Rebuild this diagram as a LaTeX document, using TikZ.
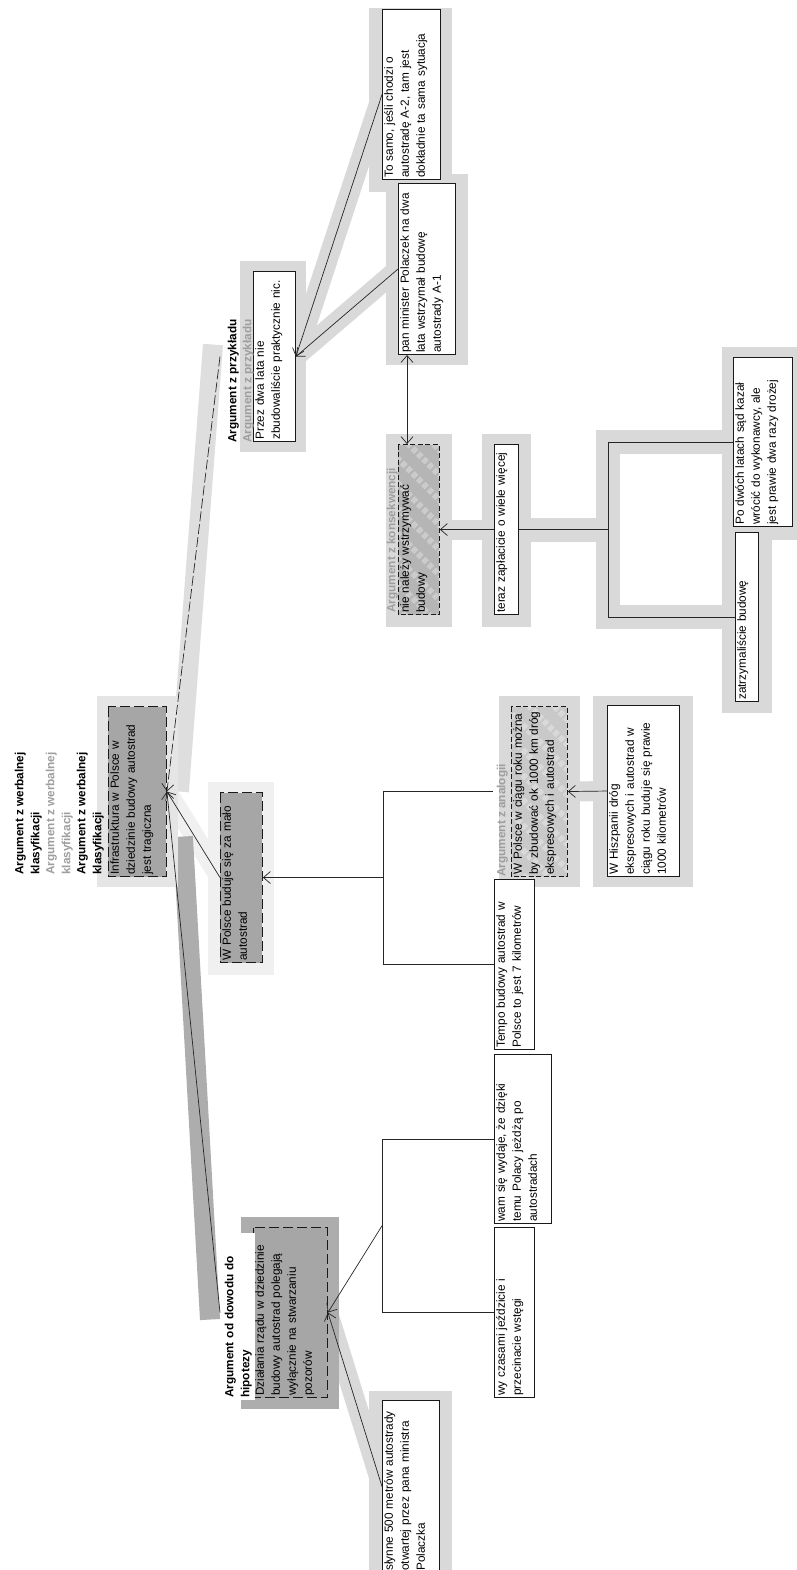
\documentclass[tikz,border=0pt]{standalone}
\usepackage{fontspec}
\setmainfont{Liberation Sans}
\usetikzlibrary{arrows.meta,calc}
\pgfdeclarelayer{bg}
\pgfsetlayers{bg,main}

\definecolor{haloStd}{gray}{0.85}
\definecolor{haloRoot}{gray}{0.90}
\definecolor{haloPale}{gray}{0.94}
\definecolor{haloDark}{gray}{0.68}
\definecolor{bandRoot}{gray}{0.87}
\definecolor{fillDark}{gray}{0.65}
\definecolor{fillMid}{gray}{0.71}
\definecolor{fillLight}{gray}{0.79}
\definecolor{ttlGray}{gray}{0.62}

\newcommand{\diafont}{\fontsize{11.8pt}{16pt}\selectfont}

\begin{document}
% The map is laid out in reading orientation and turned a quarter turn.
\begin{tikzpicture}[x=1pt, y=1pt, rotate=90, transform shape,
  font=\diafont,
  box/.style={anchor=north west, inner sep=0pt, line width=0.9pt, draw=black!90},
  plainbox/.style={box, fill=white},
  darkbox/.style={box, fill=fillDark, dash pattern=on 10pt off 4pt},
  stripebox/.style={box, fill=#1, dash pattern=on 5pt off 2.5pt,
    path picture={\foreach \t in {-220,-195,...,220}
      {\draw[white, opacity=0.3, line width=6pt]
        ($(path picture bounding box.center)+(\t,-45)$) -- ++(90,90);}}},
  txt/.style={anchor=north west, align=left, inner xsep=2pt, inner ysep=2pt},
  ttl/.style={anchor=north west, align=left, inner sep=0pt, font=\diafont\bfseries},
  conn/.style={draw=black!85, line width=0.7pt},
  toarrow/.style={-{Straight Barb[length=7pt,width=12pt]}},
  botharrows/.style={{Straight Barb[length=7pt,width=12pt]}-{Straight Barb[length=7pt,width=12pt]}},
  band/.style={line width=20pt, draw=#1}]

\useasboundingbox (0,0) rectangle (1570,-796);

% ---------- boxes ----------
\node[darkbox, minimum width=170pt, minimum height=58pt] (a) at (693,-108) {};
\node[plainbox, minimum width=170pt, minimum height=42pt] (b) at (1128,-253) {};
\node[plainbox, minimum width=170pt, minimum height=58pt] (c) at (1390,-382) {};
\node[plainbox, minimum width=171pt, minimum height=57pt] (d) at (1215,-398) {};
\node[stripebox=fillMid, minimum width=170pt, minimum height=41pt] (e) at (955,-398) {};
\node[plainbox, minimum width=170pt, minimum height=24pt] (f) at (955,-494) {};
\node[plainbox, minimum width=169pt, minimum height=59pt] (g1) at (1043,-733) {};
\node[plainbox, minimum width=169pt, minimum height=23pt] (g2) at (868,-735) {};
\node[darkbox, minimum width=170pt, minimum height=42pt] (h) at (607,-220) {};
\node[stripebox=fillLight, minimum width=170pt, minimum height=56pt] (i) at (693,-511) {};
\node[plainbox, minimum width=171pt, minimum height=72pt] (s) at (693,-607) {};
\node[plainbox, minimum width=170pt, minimum height=40pt] (j) at (520,-494) {};
\node[plainbox, minimum width=169pt, minimum height=57pt] (k) at (346,-494) {};
\node[plainbox, minimum width=170pt, minimum height=40pt] (l) at (172,-494) {};
\node[darkbox, minimum width=170pt, minimum height=74pt] (m) at (172,-253) {};
\node[plainbox, minimum width=172pt, minimum height=57pt] (n) at (-3,-382) {};

% ---------- box texts ----------
\node[txt, text width=166pt] (a-t) at (a.north west) {Infrastruktura w Polsce w\\dziedzinie budowy autostrad\\jest tragiczna};
\node[txt, text width=166pt] (b-t) at (b.north west) {Przez dwa lata nie\\zbudowaliście praktycznie nic.};
\node[txt, text width=166pt] (c-t) at (c.north west) {To samo, jeśli chodzi o\\autostradę A-2, tam jest\\dokładnie ta sama sytuacja};
\node[txt, text width=167pt] (d-t) at (d.north west) {pan minister Polaczek na dwa\\lata wstrzymał budowę\\autostrady A-1};
\node[txt, text width=166pt] (e-t) at (e.north west) {nie należy wstrzymywać\\budowy};
\node[txt, text width=166pt] (f-t) at (f.north west) {teraz zapłacicie o wiele więcej};
\node[txt, text width=165pt] (g1-t) at (g1.north west) {Po dwóch latach sąd kazał\\wrócić do wykonawcy, ale\\jest prawie dwa razy drożej};
\node[txt, text width=165pt] (g2-t) at (g2.north west) {zatrzymaliście budowę};
\node[txt, text width=166pt] (h-t) at (h.north west) {W Polsce buduje się za mało\\autostrad};
\node[txt, text width=166pt] (i-t) at (i.north west) {W Polsce w ciągu roku można\\by zbudować ok 1000 km dróg\\ekspresowych i autostrad};
\node[txt, text width=167pt] (s-t) at (s.north west) {W Hiszpanii dróg\\ekspresowych i autostrad w\\ciągu roku buduje się prawie\\1000 kilometrów};
\node[txt, text width=166pt] (j-t) at (j.north west) {Tempo budowy autostrad w\\Polsce to jest 7 kilometrów};
\node[txt, text width=165pt] (k-t) at (k.north west) {wam się wydaje, że dzięki\\temu Polacy jeżdżą po\\autostradach};
\node[txt, text width=166pt] (l-t) at (l.north west) {wy czasami jeździcie i\\przecinacie wstęgi};
\node[txt, text width=166pt] (m-t) at (m.north west) {Działania rządu w dziedzinie\\budowy autostrad polegają\\wyłącznie na stwarzaniu\\pozorów};
\node[txt, text width=168pt] (n-t) at (n.north west) {słynne 500 metrów autostrady\\otwartej przez pana ministra\\Polaczka};

% ---------- argument titles ----------
\node[ttl] (a-t1) at ($(a.north west)+(2,93.3)$) {Argument z werbalnej\\klasyfikacji};
\node[ttl, text=ttlGray] (a-t2) at ($(a.north west)+(2,62.3)$) {Argument z werbalnej\\klasyfikacji};
\node[ttl] (a-t3) at ($(a.north west)+(2,31.3)$) {Argument z werbalnej\\klasyfikacji};
\node[ttl] (b-t1) at ($(b.north west)+(-1,25.3)$) {Argument z przykładu};
\node[ttl, text=ttlGray] (b-t2) at ($(b.north west)+(-1,10.3)$) {Argument z przykładu};
\node[ttl, text=ttlGray] (e-t1) at ($(e.north west)+(2,11.3)$) {Argument z konsekwencji};
\node[ttl, text=ttlGray] (i-t1) at ($(i.north west)+(0,14.3)$) {Argument z analogii};
\node[ttl, fill=white, inner xsep=2pt, inner ysep=3pt, text width=163pt] (m-t1)
  at ($(m.north west)+(-2,31.3)$) {Argument od dowodu do\\hipotezy};

% ---------- junction points ----------
\coordinate (b-in) at ($(b.north)+(0,33)$);
\coordinate (m-in) at ($(m.north)+(0,33)$);
\coordinate (i-in) at ($(i.north)+(0,18)$);
\coordinate (h-j) at ($(h.south)+(0,-120)$);
\coordinate (h-j2) at ($(h-j)+(10,0)$);
\coordinate (m-j) at ($(k.north)!0.5!(l.north)+(0,112)$);
\coordinate (m-j2) at ($(m-j)+(10,0)$);
\coordinate (g-j) at ($(f.south)+(0,-89)$);
\coordinate (g-j2) at ($(g-j)+(10,0)$);
% bracket corners: projections of the premises onto each bracket bar
\coordinate (g-up) at ($(g-j)!(g1.north)!(g-j2)$);
\coordinate (g-dn) at ($(g-j)!(g2.north)!(g-j2)$);
\coordinate (h-up) at ($(h-j)!(i-in)!(h-j2)$);
\coordinate (h-dn) at ($(h-j)!(j.north)!(h-j2)$);
\coordinate (m-up) at ($(m-j)!(k.north)!(m-j2)$);
\coordinate (m-dn) at ($(m-j)!(l.north)!(m-j2)$);

% ---------- connectors ----------
\draw[conn, toarrow, dash pattern=on 10pt off 3pt] (b-in) -- (a.south);
\draw[conn, toarrow] (h.north) -- (a.south);
\draw[conn, toarrow] (m-in) -- (a.south);
\draw[conn, toarrow] (c.north) -- (b.south);
\draw[conn, toarrow] (d.north) -- (b.south);
\draw[conn, botharrows] ($(d.north west)+(0,-9)$) -- ($(e.north east)+(0,-9)$);
\draw[conn, toarrow] (f.north) -- (e.south);
\draw[conn] (f.south) -- (g-j);
\draw[conn] (g1.north) -- (g-up) -- (g-dn) -- (g2.north);
\draw[conn, toarrow] (s.north) -- (i.south);
\draw[conn] (i-in) -- (h-up) -- (h-dn) -- (j.north);
\draw[conn, toarrow] (h-j) -- (h.south);
\draw[conn] (k.north) -- (m-up) -- (m-dn) -- (l.north);
\draw[conn, toarrow] (m-j) -- (m.south);
\draw[conn, toarrow] (n.north) -- (m.south);

% ---------- highlight bands and halos ----------
\begin{pgfonlayer}{bg}
  \draw[band=bandRoot] ($(b-in)+(12,7)$) -- ($(a.south)+(0,-12)$);
  \draw[band=haloPale] (h.north) -- (a.south);
  \draw[band=haloDark] ($(m-in)+(-7,10)$) -- ($(a.south)+(-45,-16)$);
  \draw[band=haloStd] (c.north) -- (b.south);
  \draw[band=haloStd] (d.north) -- (b.south);
  \draw[band=haloStd] (f.north) -- (e.south);
  \draw[band=haloStd] (s.north) -- (i.south);
  \draw[band=haloStd] (n.north) -- (m.south);
  \draw[band=haloStd, line width=24pt] (f.south) -- (g-j);
  \draw[band=haloStd, line width=24pt] (g1.north) -- (g-up) -- (g-dn) -- (g2.north);

  \fill[haloRoot] ($(a.south west)+(-10,-11)$) rectangle ($(a.north east)+(10,11)$);
  \fill[haloStd] ($(b.south west)+(-10,-10)$) rectangle ($(b.north east)+(10,13)$);
  \fill[haloStd] ($(c.south west)+(-12,-11)$) rectangle ($(c.north east)+(1,13)$);
  \fill[haloStd] ($(d.south west)+(-10,-12)$) rectangle ($(d.north east)+(9,12)$);
  \fill[haloStd] ($(e.south west)+(-12,-12)$) rectangle ($(e.north east)+(10,12)$);
  \fill[haloStd] ($(f.south west)+(-12,-12)$) rectangle ($(f.north east)+(10,12)$);
  \fill[haloStd] ($(g1.south west)+(-13,-11)$) rectangle ($(g1.north east)+(10,11)$);
  \fill[haloStd] ($(g2.south west)+(-11,-13)$) rectangle ($(g2.north east)+(13,13)$);
  \fill[haloPale] ($(h.south west)+(-12,-11)$) rectangle ($(h.north east)+(10,12)$);
  \fill[haloStd] ($(i.south west)+(-10,-12)$) rectangle ($(i.north east)+(10,12)$);
  \fill[haloStd] ($(s.south west)+(-10,-13)$) rectangle ($(s.north east)+(9,14)$);
  \fill[haloDark] ($(m.south west)+(-11,-11)$) rectangle ($(m.north east)+(10,12)$);
  \fill[haloStd] ($(n.south west)+(-12,-12)$) rectangle ($(n.north east)+(9,13)$);
\end{pgfonlayer}
\end{tikzpicture}
\end{document}
